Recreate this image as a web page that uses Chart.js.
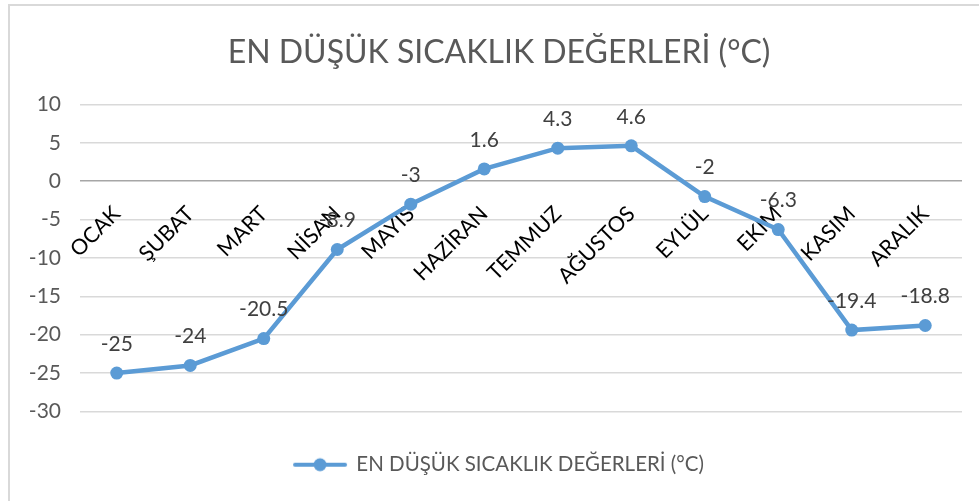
<!DOCTYPE html>
<html>
<head>
<meta charset="utf-8">
<script src="https://cdn.jsdelivr.net/npm/chart.js@4.4.0/dist/chart.umd.min.js"></script>
<style>
  html, body { margin: 0; padding: 0; background: #fff; overflow: hidden; }
  #wrap {
    position: absolute; left: 8px; top: 4px;
    width: 980px; height: 497px;
    border-left: 2px solid #d9d9d9; border-top: 2px solid #d9d9d9;
    box-sizing: border-box;
  }
</style>
</head>
<body>
<div id="wrap"><canvas id="lineChart"></canvas></div>
<script>
// ====================
// Data
// ====================

const months = ["OCAK", "ŞUBAT", "MART", "NİSAN", "MAYIS", "HAZİRAN", "TEMMUZ", "AĞUSTOS", "EYLÜL", "EKİM", "KASIM", "ARALIK"];
const minTemps = [-25, -24, -20.5, -8.9, -3, 1.6, 4.3, 4.6, -2, -6.3, -19.4, -18.8];
const seriesName = "EN DÜŞÜK SICAKLIK DEĞERLERİ (°C)";

const FONT = "Lato, 'Open Sans', sans-serif";
const BLUE = "#5B9BD5";

// legend icon: line with a dot in the middle
const legendIcon = document.createElement("canvas");
legendIcon.width = 56;
legendIcon.height = 16;
(function () {
  const c = legendIcon.getContext("2d");
  c.strokeStyle = BLUE;
  c.lineWidth = 4;
  c.lineCap = "round";
  c.beginPath();
  c.moveTo(3, 8);
  c.lineTo(53, 8);
  c.stroke();
  c.fillStyle = BLUE;
  c.beginPath();
  c.arc(28, 8, 6.5, 0, Math.PI * 2);
  c.fill();
})();

// value labels above points
const pointLabels = {
  id: "pointLabels",
  afterDatasetsDraw(chart) {
    const ctx = chart.ctx;
    const meta = chart.getDatasetMeta(0);
    ctx.save();
    ctx.font = "21px " + FONT;
    ctx.fillStyle = "#404040";
    ctx.textAlign = "center";
    ctx.textBaseline = "middle";
    meta.data.forEach((pt, i) => {
      ctx.fillText(String(minTemps[i]), pt.x, pt.y - 29);
    });
    ctx.restore();
  },
};

// ====================
// Line Chart
// ====================

new Chart(document.getElementById("lineChart"), {
  type: "line",

  data: {
    labels: months,

    datasets: [
      {
        label: seriesName,
        data: minTemps,
        borderColor: BLUE,
        backgroundColor: BLUE,
        borderWidth: 4.5,
        pointRadius: 6.5,
        pointBackgroundColor: BLUE,
        pointBorderWidth: 0,
        tension: 0,
        fill: false,
      },
    ],
  },

  plugins: [pointLabels],

  options: {
    responsive: true,
    maintainAspectRatio: false,
    animation: false,

    layout: {
      padding: { left: 0, right: 0, top: 0, bottom: 16 },
    },

    plugins: {
      title: {
        display: true,
        text: seriesName,
        color: "#595959",
        font: { family: FONT, size: 32, weight: "normal" },
        padding: { top: 27, bottom: 33 },
      },
      legend: {
        position: "bottom",
        labels: {
          color: "#595959",
          font: { family: FONT, size: 20.5 },
          padding: 43,
          usePointStyle: true,
          pointStyleWidth: 52,
          generateLabels(chart) {
            const items = Chart.defaults.plugins.legend.labels.generateLabels(chart);
            items.forEach((it) => (it.pointStyle = legendIcon));
            return items;
          },
        },
      },
      tooltip: { enabled: false },
    },

    scales: {
      x: {
        position: { y: 0 },
        offset: true,
        grid: { drawOnChartArea: false, drawTicks: false },
        border: { display: false },
        ticks: {
          color: "#000",
          font: { family: FONT, size: 21.5 },
          minRotation: 45,
          maxRotation: 45,
          padding: 20,
          autoSkip: false,
        },
      },
      y: {
        min: -30,
        max: 10,
        afterFit(scale) {
          scale.width = 70;
        },
        grid: {
          color: (c) => (c.tick && c.tick.value === 0 ? "#a6a6a6" : "#d9d9d9"),
          lineWidth: 1.5,
          drawTicks: false,
        },
        border: { display: false },
        ticks: {
          stepSize: 5,
          color: "#595959",
          font: { family: FONT, size: 21 },
          padding: 19,
        },
      },
      // empty right-hand gutter
      yRight: {
        position: "right",
        min: -30,
        max: 10,
        afterFit(scale) {
          scale.width = 26;
        },
        grid: { display: false },
        border: { display: false },
        ticks: { display: false },
      },
    },
  },
});
</script>
</body>
</html>
